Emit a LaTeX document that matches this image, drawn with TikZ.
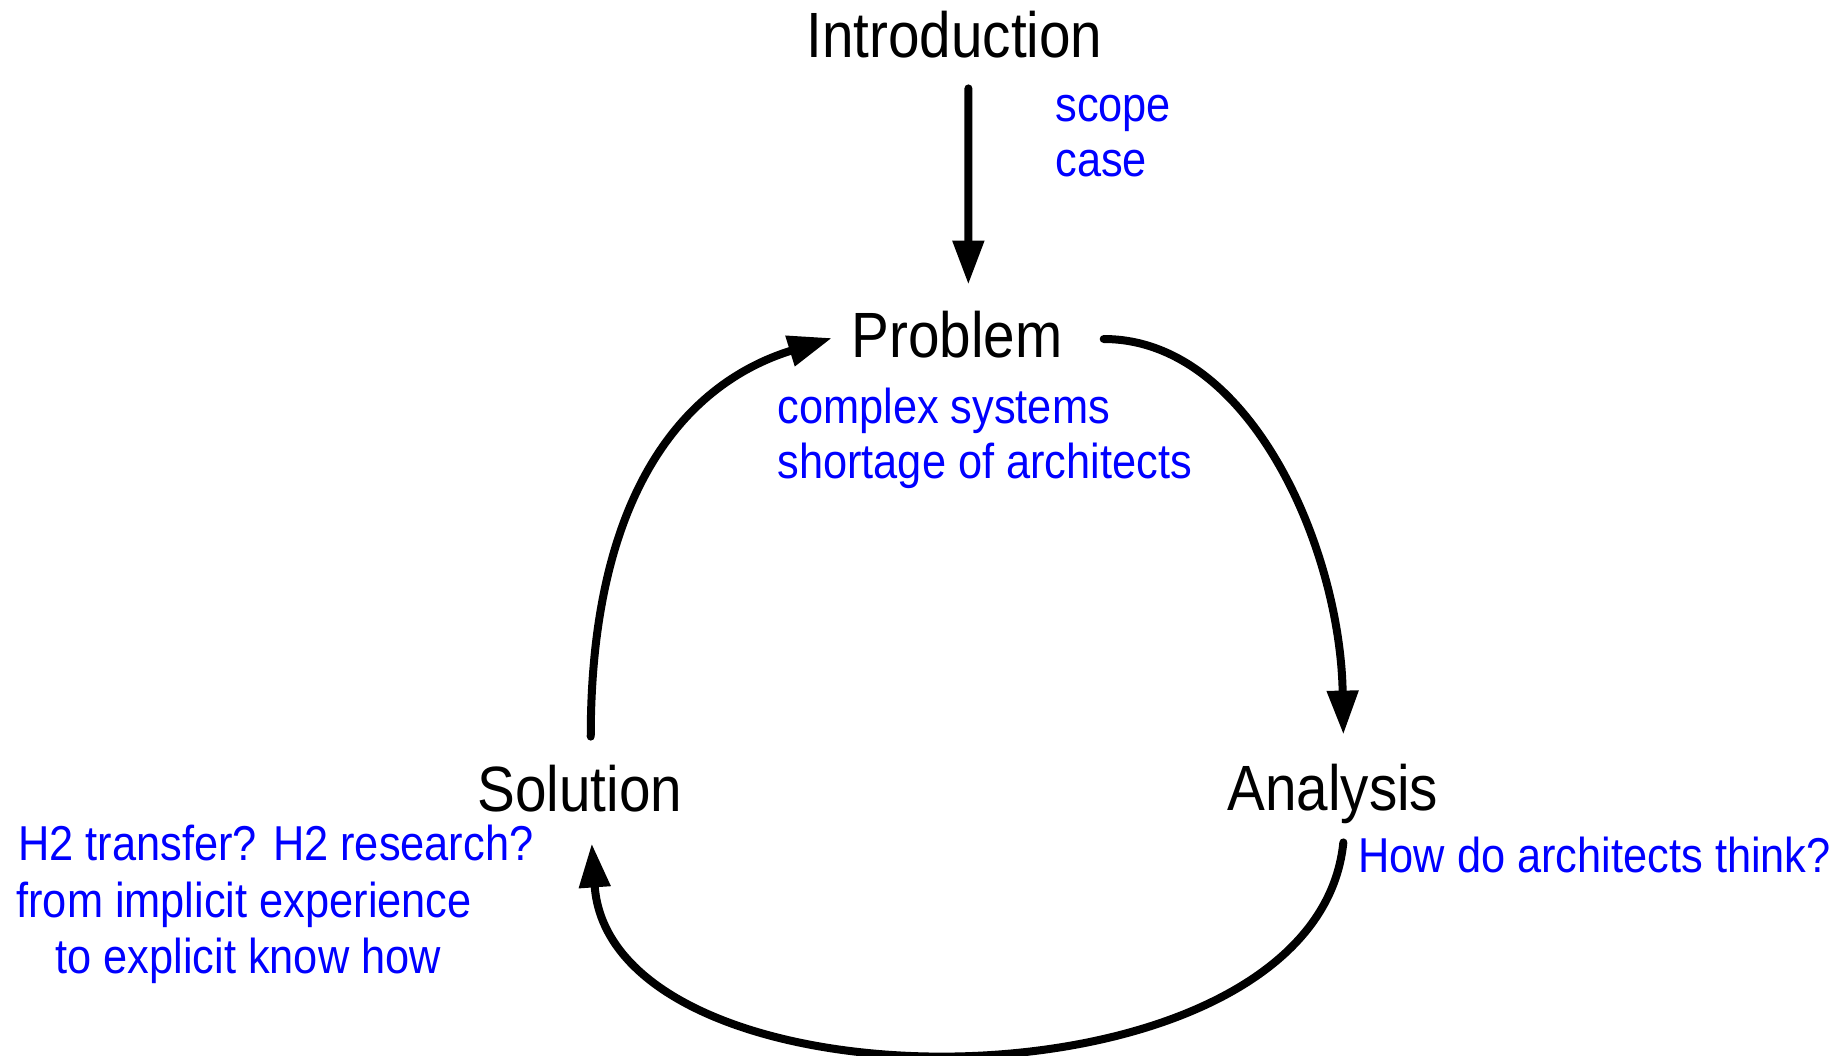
\documentclass[tikz,border=0pt]{standalone}
\usepackage{fontspec}
\setmainfont[FakeStretch=0.885]{Liberation Sans}
\usetikzlibrary{arrows.meta}
\begin{document}
\begin{tikzpicture}[x=0.5pt,y=-0.5pt,
  stage/.style={inner sep=0pt, anchor=base west, text height=23.5pt, text depth=6.5pt,
                font=\fontsize{32pt}{38pt}\selectfont},
  note/.style={inner sep=0pt, anchor=base west, text=blue,
               font=\fontsize{24.5pt}{28pt}\selectfont},
  flow/.style={line width=4pt, line cap=round, -{Triangle[length=22pt,width=15pt]}}]
\useasboundingbox (0,0) rectangle (1844,1056);

% stages of the cycle
\node[stage] (intro) at (806,57)  {Introduction};
\node[stage] (prob)  at (851,357) {Problem};
\node[stage] (sol)   at (477,811) {Solution};
\node[stage] (ana)   at (1227,810) {Analysis};

% notes beside each stage
\node[note] (scope) at (1055,121) {scope};
\node[note] (case)  at (1055,176) {case};
\node[note] (cplx)  at (777,423)  {complex systems};
\node[note] (short) at (777,478)  {shortage of architects};
\node[note] (think) at (1358,872) {How do architects think?};
\node[note] (htwo)  at (18,860)   {H2 transfer? H2 research?};
\node[note] (impl)  at (16,917)   {from implicit experience};
\node[note] (expl)  at (55,973)   {to explicit know how};

% connectors
\draw[flow] ([shift={(14,18)}]intro.south) -- ([shift={(11.5,-25)}]prob.north);
\draw[flow] ([shift={(41,-1)}]prob.east) .. controls +(147,0) and +(-3,-185) .. ([shift={(10.5,-28)}]ana.north);
\draw[flow] ([shift={(10.5,19)}]ana.south) .. controls +(-28,278) and +(19,277) .. ([shift={(12,19)}]sol.south);
\draw[flow] ([shift={(11,-27)}]sol.north) .. controls +(0,-237) and +(-152,47) .. ([shift={(-19,-2)}]prob.west);
\end{tikzpicture}
\end{document}
